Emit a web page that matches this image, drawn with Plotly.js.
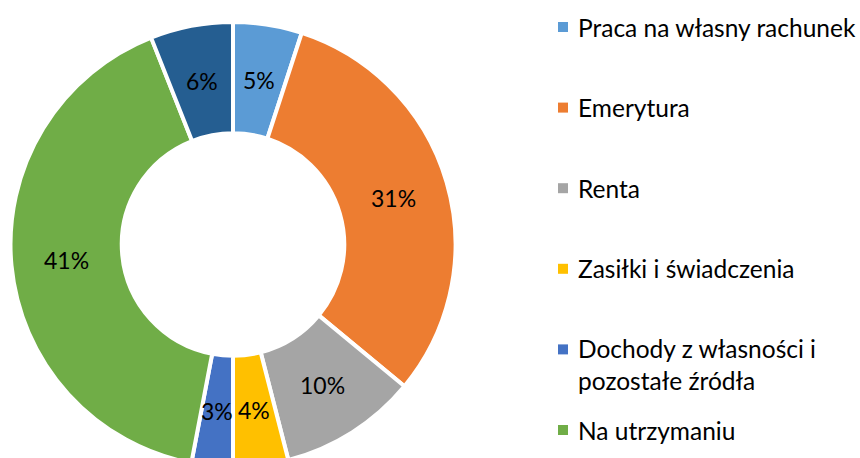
<!DOCTYPE html>
<html>
<head>
<meta charset="utf-8">
<script src="https://cdn.plot.ly/plotly-3.0.1.min.js"></script>
<style>
  html, body { margin: 0; padding: 0; width: 860px; height: 458px; overflow: hidden; background: #fff; }
  #chart { width: 860px; height: 480px; }
</style>
</head>
<body>
<div id="chart"></div>
<script>
// ---- data ----
const categories = [
  "Praca na własny rachunek",
  "Emerytura",
  "Renta",
  "Zasiłki i świadczenia",
  "Dochody z własności i<br>pozostałe źródła",
  "Na utrzymaniu",
  "Inne"
];
const shares = [5, 31, 10, 4, 3, 41, 6];
const colors = ["#5B9BD5", "#ED7D31", "#A5A5A5", "#FFC000", "#4472C4", "#70AD47", "#255E91"];

// ---- layout constants ----
const W = 860, H = 480, VIEW_H = 458;
const FONT = "Lato, 'Open Sans', sans-serif";
const cx = 233, cy = 244.5, R = 222.5, HOLE = 0.5;
const labelSize = 23, legendSize = 24.5;

const domainX = [(cx - R) / W, (cx + R) / W];
const domainY = [(H - (cy + R)) / H, (H - (cy - R)) / H];

// slice labels (percent text) placed at the middle of the ring
const total = shares.reduce((a, b) => a + b, 0);
const annotations = [];
let cum = 0;
const rLabel = R * (1 + HOLE) / 2;
shares.forEach((v, i) => {
  const mid = (cum + v / 2) / total * 2 * Math.PI;
  cum += v;
  const px = cx + rLabel * Math.sin(mid);
  const py = cy - rLabel * Math.cos(mid);
  annotations.push({
    xref: "paper", yref: "paper",
    x: px / W, y: (H - py) / H,
    xanchor: "center", yanchor: "middle",
    text: Math.round(v / total * 100) + "%",
    showarrow: false,
    font: { family: FONT, size: labelSize, color: "#000" }
  });
});

// legend (Excel-style evenly spaced entries; entries past the visible area are not drawn)
const shapes = [];
const legTop = 27, legStep = 80.6, sqX = 558, sqSize = 10, txtX = 576;
const lineH = legendSize * 1.25;
categories.forEach((c, i) => {
  const yc = legTop + legStep * i;
  if (yc > VIEW_H - 10) return;
  const nLines = c.split("<br>").length;
  shapes.push({
    type: "rect", xref: "paper", yref: "paper",
    x0: sqX / W, x1: (sqX + sqSize) / W,
    y0: (H - (yc + sqSize / 2)) / H, y1: (H - (yc - sqSize / 2)) / H,
    fillcolor: colors[i], line: { width: 0 }
  });
  annotations.push({
    xref: "paper", yref: "paper",
    x: txtX / W, y: (H - (yc + (nLines - 1) * lineH / 2)) / H,
    xanchor: "left", yanchor: "middle", align: "left",
    text: c, showarrow: false,
    font: { family: FONT, size: legendSize, color: "#000" }
  });
});

const data = [{
  type: "pie",
  labels: categories,
  values: shares,
  hole: HOLE,
  sort: false,
  direction: "clockwise",
  rotation: 0,
  textinfo: "none",
  marker: { colors: colors, line: { color: "#ffffff", width: 4 } },
  domain: { x: domainX, y: domainY },
  showlegend: false
}];

const layout = {
  width: W, height: H,
  margin: { l: 0, r: 0, t: 0, b: 0 },
  paper_bgcolor: "#ffffff",
  plot_bgcolor: "#ffffff",
  showlegend: false,
  annotations: annotations,
  shapes: shapes,
  font: { family: FONT }
};

Plotly.newPlot("chart", data, layout, { displayModeBar: false, staticPlot: true });
</script>
</body>
</html>
